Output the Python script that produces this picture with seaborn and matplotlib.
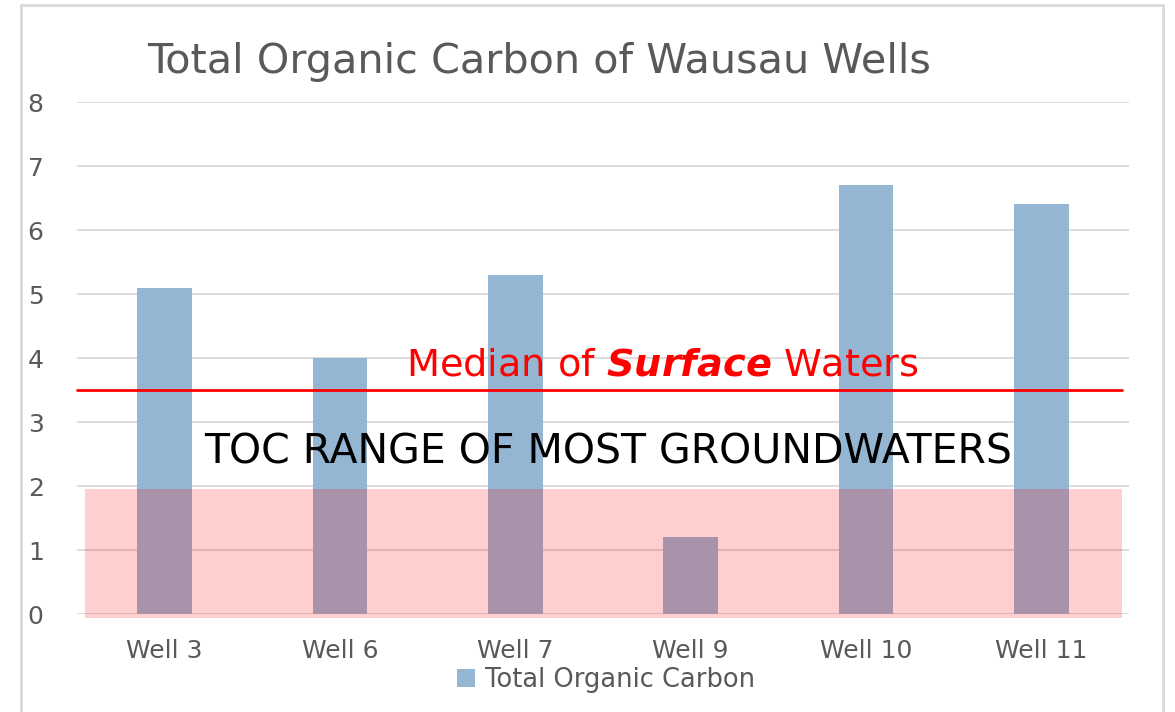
import matplotlib
matplotlib.use("Agg")
import matplotlib.pyplot as plt
import seaborn as sns
import pandas as pd
from matplotlib.patches import Rectangle

wells = ["Well 3", "Well 6", "Well 7", "Well 9", "Well 10", "Well 11"]
toc = [5.1, 4.0, 5.3, 1.2, 6.7, 6.4]
yticks = [0, 1, 2, 3, 4, 5, 6, 7, 8]
median_surface = 3.5
groundwater_range = (-0.07, 1.95)

sns.set_theme(style="white")
plt.rcParams['font.family'] = ['DejaVu Sans']
plt.rcParams['mathtext.fontset'] = 'dejavusans'

fig = plt.figure(figsize=(11.75, 7.12), dpi=100)
ax = fig.add_axes([77/1175, 1 - 614/712, (1129-77)/1175, (614-102)/712])

df = pd.DataFrame({"Well": wells, "TOC": toc})
sns.barplot(data=df, x="Well", y="TOC", color="#94B6D2", width=0.31,
            saturation=1, ax=ax, label="Total Organic Carbon", zorder=2,
            linewidth=0, edgecolor="none")

ax.set_ylim(0, 8)
ax.set_xlim(-0.5, 5.5)
ax.set_yticks(yticks)
ax.yaxis.grid(True, color="#D9D9D9", linewidth=1.3, zorder=0)
ax.set_axisbelow(True)
for s in ax.spines.values():
    s.set_visible(False)
ax.set_xlabel("")
ax.set_ylabel("")
ax.tick_params(axis="both", length=0, labelsize=18, labelcolor="#595959")
ax.tick_params(axis="y", pad=24)
ax.tick_params(axis="x", pad=18)

# groundwater range band
ax.add_patch(Rectangle((-0.454, groundwater_range[0]), 5.46 + 0.454,
                       groundwater_range[1] - groundwater_range[0],
                       facecolor=(1, 0, 0, 0.19), edgecolor="none",
                       zorder=3, clip_on=False))
ax.plot([-0.5, 5.46], [median_surface, median_surface], color="#FF0000",
        linewidth=2, zorder=4, clip_on=False)

ax.text(2.84, 3.6, "Median of $\\mathbfit{Surface}$ Waters", color="#FF0000",
        fontsize=27.5, ha="center", va="bottom", zorder=5)
ax.text(2.53, 2.52, "TOC RANGE OF MOST GROUNDWATERS", color="black",
        fontsize=29.5, ha="center", va="center", zorder=5)

fig.text(147/1175, 1 - 62/712, "Total Organic Carbon of Wausau Wells",
         fontsize=29.8, color="#595959", ha="left", va="center")

leg = ax.legend(loc="center", bbox_to_anchor=(606/1175, 1 - 680/712),
                bbox_transform=fig.transFigure, frameon=False,
                fontsize=18.5, handlelength=0.7, handleheight=0.7,
                handletextpad=0.4, labelcolor="#595959",
                borderpad=0, borderaxespad=0)

fig.add_artist(Rectangle((21/1175, -0.01), (1163-21)/1175, 1 - 5/712 + 0.01,
                         transform=fig.transFigure, fill=False,
                         edgecolor="#D9D9D9", linewidth=2))

fig.savefig("out.png", dpi=100, facecolor="white")
